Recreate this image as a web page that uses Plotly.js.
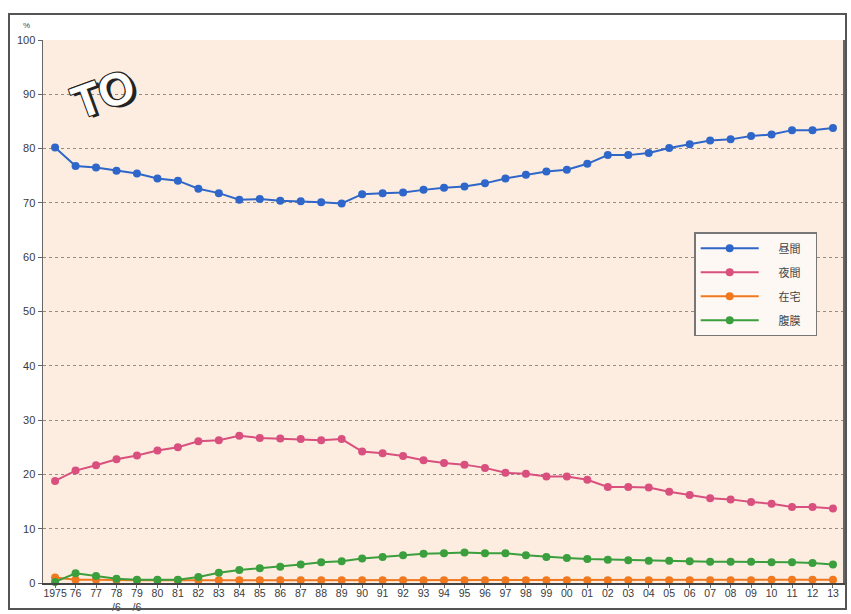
<!DOCTYPE html>
<html>
<head>
<meta charset="utf-8">
<script src="https://cdn.plot.ly/plotly-3.0.1.min.js"></script>
<style>
  html, body { margin: 0; padding: 0; background: #ffffff; }
  #wrap { position: relative; width: 851px; height: 614px; }
  #frame { position: absolute; left: 8px; top: 13px; width: 839px; height: 597px; border: 2px solid #555; box-sizing: border-box; pointer-events: none; }
  #chart { position: absolute; left: 0; top: 0; width: 851px; height: 614px; }
</style>
</head>
<body>
<div id="wrap">
  <div id="chart"></div>
  <div id="frame"></div>
</div>
<script>
const categories = ["1975","76","77","78<br>/6","79<br>/6","80","81","82","83","84","85","86","87","88","89","90","91","92","93","94","95","96","97","98","99","00","01","02","03","04","05","06","07","08","09","10","11","12","13"];

const seriesNames = ["昼間", "夜間", "在宅", "腹膜"];

const daytime = [80.2,76.8,76.5,75.9,75.4,74.5,74.1,72.6,71.8,70.6,70.7,70.4,70.3,70.1,69.9,71.6,71.8,71.9,72.4,72.8,73.0,73.6,74.5,75.2,75.8,76.1,77.2,78.8,78.8,79.2,80.1,80.8,81.5,81.7,82.3,82.6,83.4,83.4,83.8];

const nighttime = [18.8,20.7,21.7,22.8,23.5,24.4,25.0,26.1,26.3,27.1,26.7,26.6,26.5,26.3,26.5,24.2,23.9,23.4,22.6,22.1,21.8,21.2,20.3,20.1,19.6,19.6,19.0,17.7,17.7,17.6,16.8,16.2,15.6,15.4,14.9,14.6,14.0,14.0,13.7];

const home = [1.0,0.6,0.6,0.5,0.5,0.5,0.5,0.5,0.5,0.5,0.5,0.5,0.5,0.5,0.5,0.5,0.5,0.5,0.5,0.5,0.5,0.5,0.5,0.5,0.5,0.5,0.5,0.5,0.5,0.5,0.5,0.5,0.5,0.5,0.5,0.6,0.6,0.6,0.6];

const peritoneal = [0.2,1.8,1.3,0.8,0.6,0.6,0.6,1.1,1.9,2.4,2.7,3.0,3.4,3.8,4.0,4.5,4.8,5.1,5.4,5.5,5.6,5.5,5.5,5.1,4.8,4.6,4.4,4.3,4.2,4.1,4.1,4.0,3.9,3.9,3.9,3.8,3.8,3.7,3.4];

const yTicks = [0,10,20,30,40,50,60,70,80,90,100];

const colors = ["#2f66c9", "#d9507f", "#f0781e", "#3a9f3c"];
const allSeries = [daytime, nighttime, home, peritoneal];

const traces = allSeries.map((vals, i) => ({
  type: "scatter",
  mode: "lines+markers",
  name: "&nbsp;&nbsp;&nbsp;&nbsp;&nbsp;&nbsp;" + seriesNames[i] + "&nbsp;&nbsp;&nbsp;&nbsp;",
  legendgroup: "g" + i,
  x: categories,
  y: vals,
  line: { color: colors[i], width: 2 },
  marker: { color: colors[i], size: 8 },
  cliponaxis: false
}));

const layout = {
  width: 851,
  height: 614,
  margin: { l: 43, r: 8, t: 40, b: 31 },
  paper_bgcolor: "#ffffff",
  plot_bgcolor: "#fcede0",
  font: { family: "Liberation Sans, Arial, sans-serif", size: 11, color: "#3a3a3a" },
  showlegend: true,
  legend: {
    x: 0.814, y: 0.646, xanchor: "left", yanchor: "top",
    bgcolor: "#fdf8f3", bordercolor: "#777", borderwidth: 1.5,
    font: { family: "Noto Sans CJK JP", size: 11, color: "#444" },
    itemwidth: 58,
    traceorder: "grouped",
    tracegroupgap: 5
  },
  xaxis: {
    type: "category",
    range: [-0.59, 38.49],
    showgrid: false,
    zeroline: false,
    showline: true, linecolor: "#444", linewidth: 1.5,
    mirror: false,
    ticks: "outside", ticklen: 3, tickcolor: "#666",
    tickangle: 0,
    ticklabelstandoff: -3,
    tickfont: { size: 10.5, color: "#3a3a3a" },
    fixedrange: true
  },
  yaxis: {
    range: [0, 100],
    tickvals: yTicks,
    showgrid: true, gridcolor: "#9a8c7c", gridwidth: 1, griddash: "dot",
    zeroline: false,
    showline: true, linecolor: "#666", linewidth: 1.5,
    mirror: true,
    ticks: "outside", ticklen: 4, tickcolor: "#666",
    tickfont: { size: 11, color: "#3a3a3a" },
    fixedrange: true
  },
  annotations: [
    { text: "%", xref: "paper", yref: "paper", x: -0.014, y: 1.0, xanchor: "right", yanchor: "bottom", yshift: 8, showarrow: false, font: { size: 8, color: "#444" } },
    { text: "<b>TO</b>", xref: "paper", yref: "paper", x: 0.075, y: 0.9, xanchor: "center", yanchor: "middle", showarrow: false, textangle: -20,
      font: { family: "Liberation Sans", size: 46, color: "#ffffff", shadow: "3px 3px 0 #222, -1px -1px 0 #222, 1px -1px 0 #222, -1px 1px 0 #222, 1px 1px 0 #222" } }
  ]
};

Plotly.newPlot("chart", traces, layout, { displayModeBar: false, staticPlot: true });
</script>
</body>
</html>
